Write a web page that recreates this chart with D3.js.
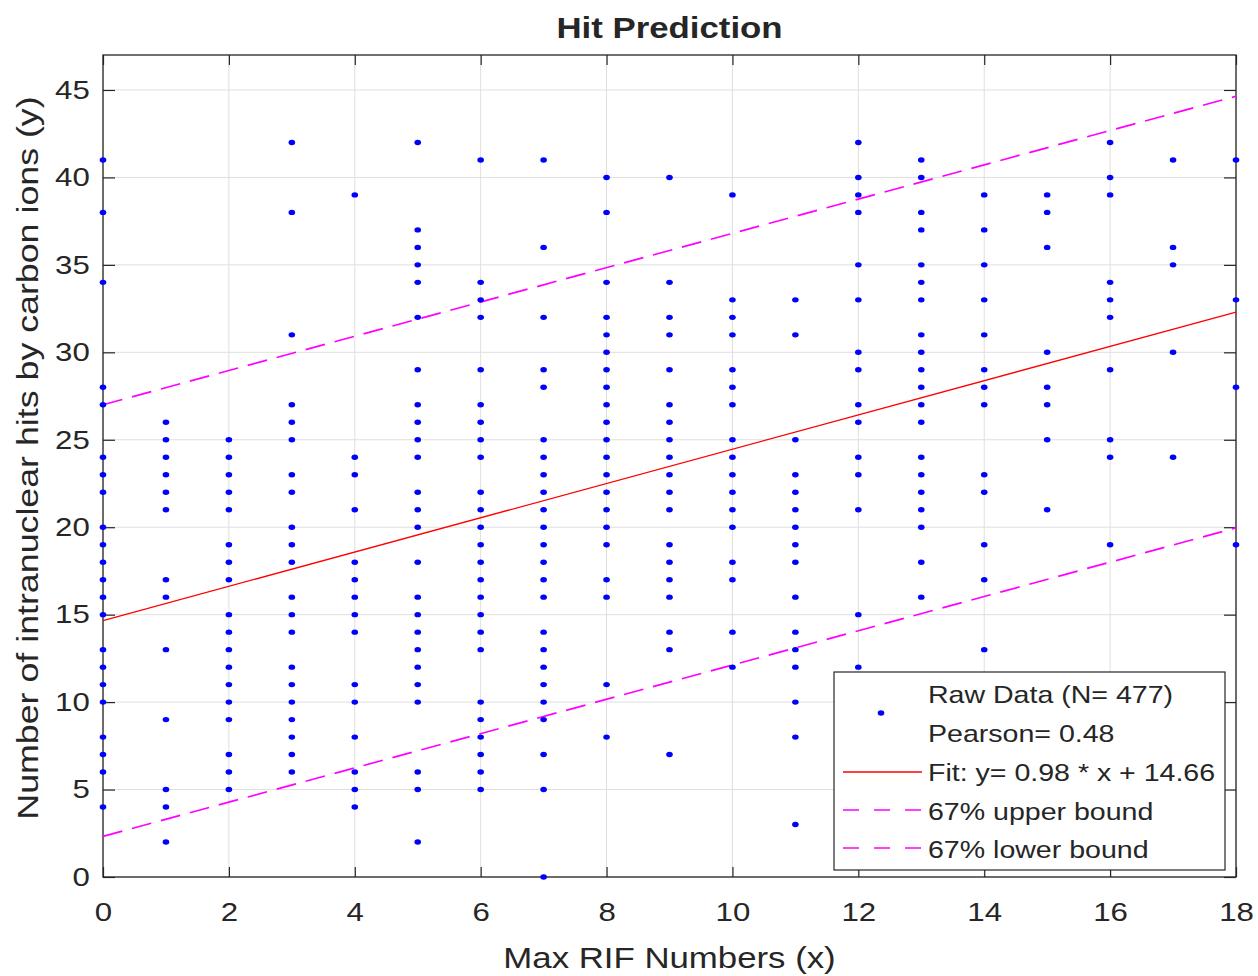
<!DOCTYPE html>
<html>
<head>
<meta charset="utf-8">
<script src="https://cdn.jsdelivr.net/npm/d3@7"></script>
<style>
  body { margin: 0; background: #fff; }
  svg { display: block; }
  text { font-family: "Liberation Sans", Arial, Helvetica, sans-serif; fill: #262626; }
</style>
</head>
<body>
<svg id="chart" width="1258" height="976"></svg>
<script>
// Max RIF number per cell (x) and the distinct hit counts seen at each x (y)
const rifNumbers = d3.range(0, 19);
const hitsAtRif = [
  [41,38,34,28,27,24,23,22,20,19,18,17,16,15,13,12,11,10,8,7,6,4],
  [26,25,24,23,22,21,17,16,13,9,5,4,2],
  [25,24,23,22,21,19,18,17,15,14,13,12,11,10,9,7,6,5],
  [42,38,31,27,26,25,23,22,20,19,18,16,15,14,12,11,10,9,8,7,6],
  [39,24,23,21,18,17,16,15,14,11,10,8,6,5,4],
  [42,37,36,35,34,32,29,27,26,25,24,22,21,20,18,16,15,14,13,12,11,10,6,5,2],
  [41,34,33,32,29,27,26,25,24,22,21,20,19,18,17,16,15,14,13,10,9,8,7,6,5],
  [41,36,32,29,28,25,24,23,22,21,20,19,18,17,16,14,13,12,11,10,9,7,5,0],
  [40,38,34,32,31,30,29,28,27,26,25,24,23,22,21,20,19,17,16,11,8],
  [40,34,32,31,29,27,26,25,24,23,22,21,19,18,17,16,14,13,7],
  [39,33,32,31,29,28,27,25,24,23,22,21,20,18,17,14,12],
  [33,31,25,23,22,21,20,19,18,16,14,13,12,10,8,3],
  [42,40,39,38,35,33,30,29,27,26,24,23,21,15,12],
  [41,40,38,37,35,34,33,31,30,29,28,27,26,24,23,22,21,20,18,16],
  [39,37,35,33,31,29,28,27,23,22,19,17,13],
  [39,38,36,30,28,27,25,21],
  [42,40,39,34,33,32,29,25,24,19],
  [41,36,35,30,24],
  [41,33,28,19]
];

const xTicks = [0, 2, 4, 6, 8, 10, 12, 14, 16, 18];
const yTicks = [0, 5, 10, 15, 20, 25, 30, 35, 40, 45];

// Linear fit and the 67% band around it
const fitSlope = 0.98;
const fitIntercept = 14.66;
const bandHalfWidth = 12.34;
const sampleCount = 477;
const pearsonR = 0.48;

const titleText = "Hit Prediction";
const xLabel = "Max RIF Numbers (x)";
const yLabel = "Number of intranuclear hits by carbon ions (y)";

const plot = { left: 103, right: 1236, top: 55, bottom: 877 };
const svg = d3.select("#chart");

const x = d3.scaleLinear().domain([0, 18]).range([plot.left, plot.right]);
const y = d3.scaleLinear().domain([0, 47]).range([plot.bottom, plot.top]);

const axisColor = "#262626";
const gridColor = "#dfdfdf";
const wide = 1.2;   // the figure's type is set wide along the writing direction

// grid
const grid = svg.append("g");
grid.selectAll("line.vx").data(xTicks).join("line")
  .attr("x1", d => x(d)).attr("x2", d => x(d))
  .attr("y1", plot.top).attr("y2", plot.bottom)
  .attr("stroke", gridColor).attr("stroke-width", 1);
grid.selectAll("line.hy").data(yTicks).join("line")
  .attr("x1", plot.left).attr("x2", plot.right)
  .attr("y1", d => y(d)).attr("y2", d => y(d))
  .attr("stroke", gridColor).attr("stroke-width", 1);

// axes with inward ticks on all four sides
function styleAxis(g) {
  g.selectAll(".domain").remove();
  g.selectAll(".tick line").attr("stroke", axisColor).attr("stroke-width", 1.2);
  g.selectAll(".tick text").attr("fill", axisColor)
    .attr("transform", `scale(${wide},1)`)
    .style("font-size", "26px").style("font-family", '"Liberation Sans", Arial, sans-serif');
}
svg.append("g").attr("transform", `translate(0,${plot.bottom})`)
  .call(d3.axisBottom(x).tickValues(xTicks).tickFormat(d3.format("d")).tickSizeInner(-10).tickSizeOuter(0).tickPadding(26))
  .call(styleAxis);
svg.append("g").attr("transform", `translate(0,${plot.top})`)
  .call(d3.axisTop(x).tickValues(xTicks).tickFormat("").tickSizeInner(-10).tickSizeOuter(0))
  .call(styleAxis);
svg.append("g").attr("transform", `translate(${plot.left},0)`)
  .call(d3.axisLeft(y).tickValues(yTicks).tickFormat(d3.format("d")).tickSizeInner(-12).tickSizeOuter(0).tickPadding(11))
  .call(styleAxis);
svg.append("g").attr("transform", `translate(${plot.right},0)`)
  .call(d3.axisRight(y).tickValues(yTicks).tickFormat("").tickSizeInner(-12).tickSizeOuter(0))
  .call(styleAxis);

svg.append("rect")
  .attr("x", plot.left).attr("y", plot.top)
  .attr("width", plot.right - plot.left).attr("height", plot.bottom - plot.top)
  .attr("fill", "none").attr("stroke", axisColor).attr("stroke-width", 1.3);

// fit line and bounds
const fitAt = v => fitSlope * v + fitIntercept;
const line = d3.line().x(d => x(d[0])).y(d => y(d[1]));
const xEnds = [0, 18];

[bandHalfWidth, -bandHalfWidth].forEach(off => {
  svg.append("path")
    .attr("d", line(xEnds.map(v => [v, fitAt(v) + off])))
    .attr("fill", "none").attr("stroke", "#ff00ff").attr("stroke-width", 1.7)
    .attr("stroke-dasharray", "20,10");
});

// raw data points
const points = rifNumbers.flatMap((r, i) => hitsAtRif[i].map(h => ({ r, h })));
svg.append("g").selectAll("ellipse").data(points).join("ellipse")
  .attr("cx", d => x(d.r)).attr("cy", d => y(d.h))
  .attr("rx", 3.3).attr("ry", 2.7)
  .attr("fill", "#0000ff");

svg.append("path")
  .attr("d", line(xEnds.map(v => [v, fitAt(v)])))
  .attr("fill", "none").attr("stroke", "#ff0000").attr("stroke-width", 1.3);

// text helper: position, optional rotation, widened along the line of text
function label(parent, px, py, str, opts = {}) {
  const rot = opts.rotate ? ` rotate(${opts.rotate})` : "";
  return parent.append("text")
    .attr("transform", `translate(${px},${py})${rot} scale(${wide},1)`)
    .attr("text-anchor", opts.anchor || "start")
    .style("font-size", opts.size || "29px")
    .style("font-weight", opts.weight || "normal")
    .attr("fill", opts.fill || axisColor)
    .text(str);
}

label(svg, (plot.left + plot.right) / 2, 38, titleText, { anchor: "middle", weight: "bold", fill: "#000", size: "29px" });
label(svg, (plot.left + plot.right) / 2, 968, xLabel, { anchor: "middle", size: "29px" });
label(svg, 38, (plot.top + plot.bottom) / 2 - 8, yLabel, { anchor: "middle", rotate: -90, size: "29.8px" });

// legend
const legend = { x: 834, y: 672, w: 391, h: 198 };
const lg = svg.append("g");
lg.append("rect")
  .attr("x", legend.x).attr("y", legend.y).attr("width", legend.w).attr("height", legend.h)
  .attr("fill", "#fff").attr("stroke", axisColor).attr("stroke-width", 1.2);

const textX = 928;
const legendRows = [
  { text: `Raw Data (N= ${sampleCount})`, base: 703 },
  { text: `Pearson= ${pearsonR.toFixed(2)}`, base: 742 },
  { text: `Fit: y= ${fitSlope.toFixed(2)} * x + ${fitIntercept.toFixed(2)}`, base: 781 },
  { text: "67% upper bound", base: 820 },
  { text: "67% lower bound", base: 858 }
];
legendRows.forEach(r => label(lg, textX, r.base, r.text, { size: "23.8px" }));

lg.append("ellipse").attr("cx", 881).attr("cy", 713).attr("rx", 3.3).attr("ry", 2.7).attr("fill", "#0000ff");
lg.append("line").attr("x1", 843).attr("x2", 922).attr("y1", 772).attr("y2", 772)
  .attr("stroke", "#ff0000").attr("stroke-width", 1.3);
[810, 848].forEach(ly => {
  lg.append("line").attr("x1", 843).attr("x2", 922).attr("y1", ly).attr("y2", ly)
    .attr("stroke", "#ff00ff").attr("stroke-width", 1.7).attr("stroke-dasharray", "16,15");
});
</script>
</body>
</html>
